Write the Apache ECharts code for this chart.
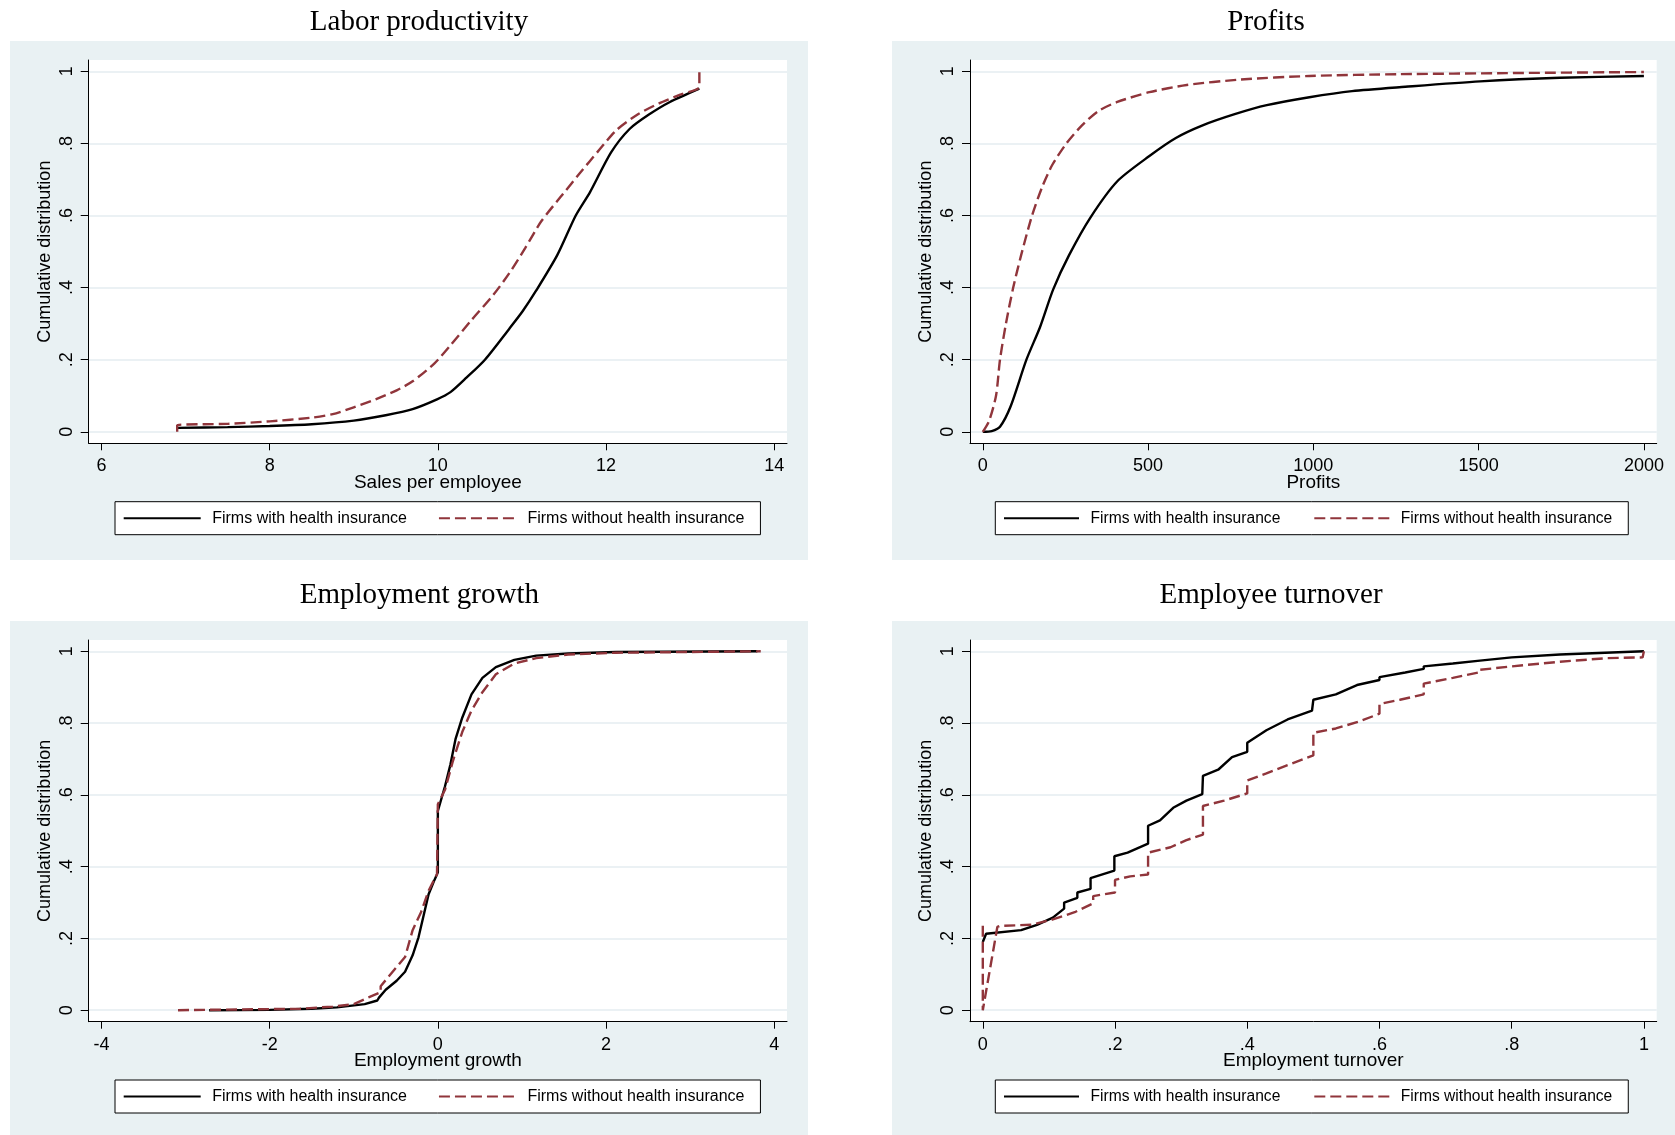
<!DOCTYPE html>
<html>
<head>
<meta charset="utf-8">
<script src="https://cdn.jsdelivr.net/npm/echarts@6/dist/echarts.min.js"></script>
<style>
    html, body { margin: 0; padding: 0; background: #fff; }
    #cdf-chart { width: 1675px; height: 1135px; }
</style>
</head>
<body>
<div id="cdf-chart"></div>
<script>
// series names
var nameWith = 'Firms with health insurance';
var nameWithout = 'Firms without health insurance';

// tick labels
var cdfTicks = [0, 0.2, 0.4, 0.6, 0.8, 1];
var laborTicks = [6, 8, 10, 12, 14];
var profitTicks = [0, 500, 1000, 1500, 2000];
var growthTicks = [-4, -2, 0, 2, 4];
var turnoverTicks = [0, 0.2, 0.4, 0.6, 0.8, 1];

// Labor productivity (sales per employee)
var laborWith = [[6.90, 0.011], [7.5, 0.013], [8.0, 0.016], [8.5, 0.021], [9.0, 0.031], [9.38, 0.046],
    [9.70, 0.063], [9.99, 0.09], [10.15, 0.11], [10.34, 0.15], [10.56, 0.2], [10.85, 0.286], [11.01, 0.335],
    [11.17, 0.392], [11.42, 0.49], [11.64, 0.6], [11.81, 0.665], [12.06, 0.775], [12.28, 0.84], [12.51, 0.88],
    [12.76, 0.915], [13.11, 0.952]];
var laborWithout = [[6.90, 0], [6.90, 0.018], [7.5, 0.022], [8.0, 0.029], [8.49, 0.039], [8.75, 0.049],
    [9.0, 0.068], [9.26, 0.09], [9.51, 0.115], [9.70, 0.14], [9.96, 0.19], [10.15, 0.24], [10.40, 0.31],
    [10.66, 0.38], [10.85, 0.44], [11.04, 0.51], [11.23, 0.584], [11.49, 0.66], [11.68, 0.715], [11.93, 0.785],
    [12.12, 0.836], [12.38, 0.881], [12.63, 0.911], [12.89, 0.936], [13.11, 0.957], [13.11, 1.0]];

// Profits
var profitWith = [[0, 0], [27, 0.002], [52, 0.014], [84, 0.07], [132, 0.2], [173, 0.29], [213, 0.395],
    [261, 0.49], [326, 0.595], [407, 0.695], [504, 0.765], [584, 0.815], [665, 0.85], [762, 0.881],
    [859, 0.906], [988, 0.928], [1117, 0.945], [1278, 0.957], [1504, 0.972], [1746, 0.982], [2000, 0.987]];
var profitWithout = [[0, 0], [19, 0.03], [40, 0.1], [52, 0.2], [70, 0.3], [92, 0.4], [116, 0.49], [149, 0.6],
    [180, 0.68], [210, 0.74], [253, 0.8], [300, 0.85], [350, 0.89], [407, 0.915], [504, 0.942], [617, 0.962],
    [778, 0.977], [988, 0.987], [1262, 0.992], [1585, 0.995], [2000, 0.998]];

// Employment growth
var growthWith = [[-2.72, 0], [-2.0, 0.001], [-1.5, 0.004], [-1.2, 0.008], [-0.87, 0.017], [-0.72, 0.027],
    [-0.70, 0.035], [-0.62, 0.057], [-0.49, 0.082], [-0.39, 0.107], [-0.30, 0.153], [-0.23, 0.203],
    [-0.17, 0.263], [-0.11, 0.323], [-0.04, 0.363], [0, 0.384], [0, 0.555], [0.085, 0.624], [0.15, 0.685],
    [0.21, 0.755], [0.29, 0.815], [0.40, 0.88], [0.53, 0.926], [0.69, 0.956], [0.91, 0.976], [1.17, 0.988],
    [1.55, 0.994], [2.12, 0.998], [3.8, 1.0]];
var growthWithout = [[-3.09, 0], [-1.64, 0.004], [-1.25, 0.01], [-1.0, 0.017], [-0.81, 0.037], [-0.68, 0.05],
    [-0.68, 0.067], [-0.52, 0.112], [-0.39, 0.148], [-0.30, 0.223], [-0.20, 0.273], [-0.11, 0.333],
    [-0.01, 0.379], [0, 0.38], [0, 0.574], [0.085, 0.614], [0.18, 0.695], [0.29, 0.775], [0.40, 0.835],
    [0.53, 0.886], [0.69, 0.936], [0.91, 0.966], [1.17, 0.981], [1.55, 0.991], [2.12, 0.996], [3.84, 1.0]];

// Employee turnover
var turnoverWith = [[0, 0.19], [0.005, 0.213], [0.058, 0.223], [0.082, 0.238], [0.106, 0.258], [0.123, 0.283],
    [0.123, 0.30], [0.143, 0.313], [0.143, 0.328], [0.163, 0.338], [0.163, 0.368], [0.199, 0.389],
    [0.199, 0.429], [0.219, 0.439], [0.25, 0.464], [0.25, 0.514], [0.268, 0.529], [0.288, 0.564],
    [0.308, 0.584], [0.332, 0.602], [0.333, 0.653], [0.356, 0.67], [0.377, 0.705], [0.40, 0.72], [0.40, 0.745],
    [0.429, 0.78], [0.461, 0.81], [0.498, 0.835], [0.50, 0.865], [0.534, 0.88], [0.566, 0.906], [0.60, 0.92],
    [0.60, 0.928], [0.639, 0.941], [0.667, 0.951], [0.667, 0.958], [0.711, 0.966], [0.752, 0.974],
    [0.80, 0.983], [0.873, 0.991], [1.0, 1.0]];
var turnoverWithout = [[0, 0.235], [0, 0], [0.022, 0.232], [0.026, 0.235], [0.074, 0.238], [0.106, 0.253],
    [0.139, 0.273], [0.167, 0.298], [0.167, 0.318], [0.2, 0.328], [0.2, 0.363], [0.223, 0.373], [0.25, 0.378],
    [0.25, 0.439], [0.284, 0.454], [0.308, 0.474], [0.333, 0.489], [0.333, 0.569], [0.365, 0.584],
    [0.40, 0.604], [0.40, 0.64], [0.429, 0.66], [0.461, 0.683], [0.50, 0.71], [0.50, 0.773], [0.534, 0.785],
    [0.57, 0.805], [0.60, 0.826], [0.60, 0.853], [0.631, 0.865], [0.667, 0.88], [0.667, 0.91], [0.711, 0.926],
    [0.75, 0.941], [0.75, 0.948], [0.80, 0.958], [0.873, 0.971], [0.945, 0.981], [0.998, 0.983], [1.0, 0.983],
    [1.0, 1.0]];

// layout of the four panels (pixels)
var panels = [
    {title: 'Labor productivity', xName: 'Sales per employee', xTicks: laborTicks, withData: laborWith, withoutData: laborWithout,
        smooth: 0.25, bg: [10, 41, 798, 519], titleX: 419, titleTop: 8, grid: [88.7, 60, 698.3, 383.3],
        legend: {left: 115, top: 501.7, font: 16, itemWidth: 77, gap: 31}},
    {title: 'Profits', xName: 'Profits', xTicks: profitTicks, withData: profitWith, withoutData: profitWithout,
        smooth: 0.25, bg: [892, 41, 783, 519], titleX: 1266, titleTop: 8, grid: [970, 60, 686.7, 383.3],
        legend: {left: 995.3, top: 501.7, font: 15.6, itemWidth: 75, gap: 33}},
    {title: 'Employment growth', xName: 'Employment growth', xTicks: growthTicks, withData: growthWith, withoutData: growthWithout,
        smooth: false, bg: [10, 621, 798, 514], titleX: 419.4, titleTop: 581, grid: [88.7, 640, 698.3, 381.7],
        legend: {left: 115, top: 1080, font: 16, itemWidth: 77, gap: 31}},
    {title: 'Employee turnover', xName: 'Employment turnover', xTicks: turnoverTicks, withData: turnoverWith, withoutData: turnoverWithout,
        smooth: false, bg: [892, 621, 783, 514], titleX: 1271, titleTop: 581, grid: [970, 640, 686.7, 381.7],
        legend: {left: 995.3, top: 1080, font: 15.6, itemWidth: 75, gap: 33}}
];

var sans = 'Liberation Sans, Arial, sans-serif';
var serif = 'Liberation Serif, Times New Roman, serif';
var bgColor = '#e9f1f3';
var gridColor = '#e4edf0';
var maroon = '#90353b';

// stata style: ".2" instead of "0.2"
function stataLabel(v) {
    var s = String(Math.round(v * 1000) / 1000);
    return s.replace(/^0\./, '.').replace(/^-0\./, '-.');
}

// extend the range so that the first/last tick sit inside the plot region
function padded(lo, hi, lenPx, padLo, padHi) {
    var per = (hi - lo) / (lenPx - padLo - padHi);
    return [lo - padLo * per, hi + padHi * per];
}

var option = {
    animation: false,
    backgroundColor: '#fff',
    title: [], grid: [], xAxis: [], yAxis: [], legend: [], series: [],
    graphic: {elements: []}
};

panels.forEach(function (p, i) {
    var g = p.grid;
    var lg = p.legend;
    var xr = padded(p.xTicks[0], p.xTicks[p.xTicks.length - 1], g[2], 12.8, 12.8);
    var yr = padded(0, 1, g[3], 11.5, 11.3);

    option.graphic.elements.push({
        type: 'rect', z: -100, silent: true,
        shape: {x: p.bg[0], y: p.bg[1], width: p.bg[2], height: p.bg[3]},
        style: {fill: bgColor}
    });
    option.title.push({
        text: p.title, left: p.titleX, top: p.titleTop, textAlign: 'center', padding: 0,
        textStyle: {fontFamily: serif, fontSize: 29, fontWeight: 'normal', color: '#000'}
    });
    option.grid.push({
        left: g[0], top: g[1], width: g[2], height: g[3],
        show: true, backgroundColor: '#fff', borderWidth: 0,
        containLabel: false, outerBoundsMode: 'none'
    });
    option.xAxis.push({
        type: 'value', gridIndex: i, min: xr[0], max: xr[1],
        name: p.xName, nameLocation: 'middle', nameGap: 30, nameMoveOverlap: false,
        nameTextStyle: {fontFamily: sans, fontSize: 19, color: '#000'},
        axisLine: {show: true, onZero: false, lineStyle: {color: '#000', width: 1}},
        axisTick: {show: true, customValues: p.xTicks, length: 7, lineStyle: {color: '#000', width: 1}},
        axisLabel: {customValues: p.xTicks, formatter: stataLabel, margin: 14, fontFamily: sans, fontSize: 18, color: '#000'},
        splitLine: {show: false}
    });
    option.yAxis.push({
        type: 'value', gridIndex: i, min: yr[0], max: yr[1],
        name: 'Cumulative distribution', nameLocation: 'middle', nameRotate: 90, nameGap: 35, nameMoveOverlap: false,
        nameTextStyle: {fontFamily: sans, fontSize: 18, color: '#000'},
        axisLine: {show: true, onZero: false, lineStyle: {color: '#000', width: 1}},
        axisTick: {show: true, customValues: cdfTicks, length: 8, lineStyle: {color: '#000', width: 1}},
        axisLabel: {customValues: cdfTicks, formatter: stataLabel, rotate: 90, margin: 13, fontFamily: sans, fontSize: 18, color: '#000'},
        splitLine: {show: true, lineStyle: {color: gridColor, width: 1.5}}
    });
    option.series.push({
        name: nameWith, type: 'line', xAxisIndex: i, yAxisIndex: i,
        data: p.withData, symbol: 'none', silent: true, smooth: p.smooth,
        lineStyle: {color: '#000', width: 2.4, type: 'solid'},
        itemStyle: {color: '#000'}
    });
    option.series.push({
        name: nameWithout, type: 'line', xAxisIndex: i, yAxisIndex: i,
        data: p.withoutData, symbol: 'none', silent: true, smooth: p.smooth,
        lineStyle: {color: maroon, width: 2.4, type: [11, 5]},
        itemStyle: {color: maroon}
    });
    option.legend.push({
        data: [nameWith, nameWithout], selectedMode: false,
        left: lg.left, top: lg.top, orient: 'horizontal',
        padding: [8, 16, 8, 7.7], itemGap: lg.gap, itemWidth: lg.itemWidth, itemHeight: 14,
        backgroundColor: '#fff', borderColor: '#000', borderWidth: 1,
        itemStyle: {opacity: 0},
        lineStyle: {width: 2},
        textStyle: {fontFamily: sans, fontSize: lg.font, color: '#000', lineHeight: 17, padding: [0, 0, 0, 6.5]}
    });
});

var bidChart = echarts.init(document.getElementById('cdf-chart'), null, {renderer: 'canvas'});
bidChart.setOption(option);
</script>
</body>
</html>
